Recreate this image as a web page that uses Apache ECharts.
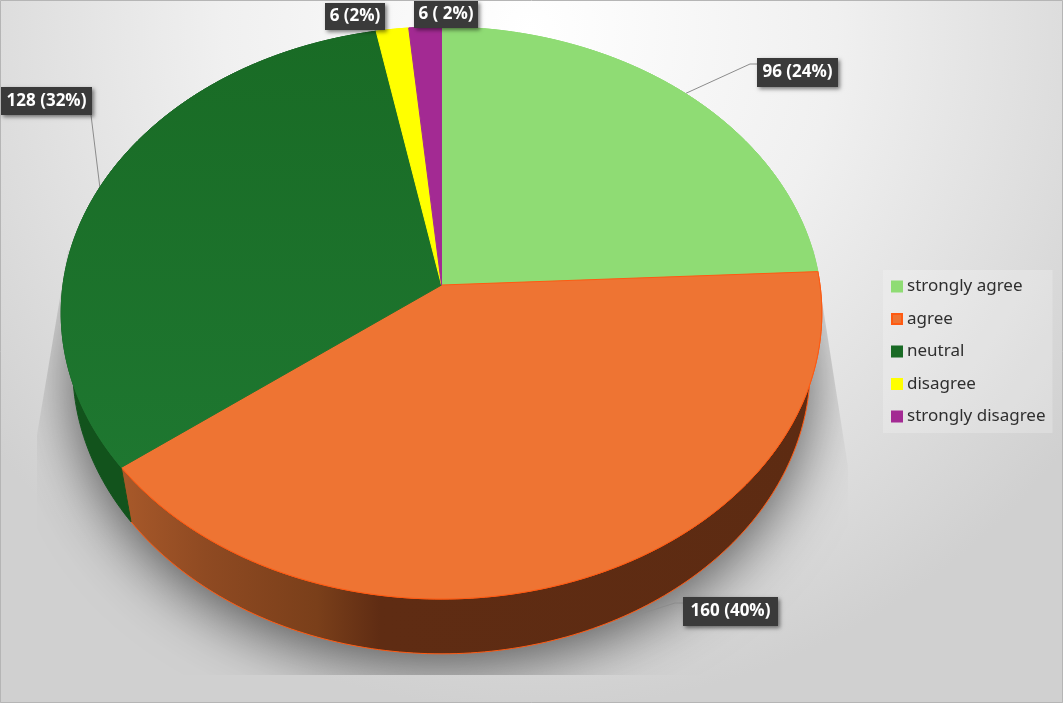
<!DOCTYPE html>
<html>
<head lang="en">
    <meta charset="UTF-8">
    <title></title>
    <style>
        html, body { margin: 0; padding: 0; }
        #main1 { width: 1063px; height: 703px; }
    </style>
</head>
<body>
<div id="main1"></div>
<script src="https://cdn.jsdelivr.net/npm/echarts@6/dist/echarts.min.js"></script>
<script type="text/javascript">
    // data
    var categories = ['strongly agree', 'agree', 'neutral', 'disagree', 'strongly disagree'];
    var values = [96, 160, 128, 6, 6];
    var sliceLabels = ['96 (24%)', '160 (40%)', '128 (32%)', '6 (2%)', '6 ( 2%)'];
    var topColors = ['#8fdc74', '#ee7433', '#196b25', '#ffff00', '#a32a93'];
    var edgeColors = ['#8fdc74', '#ff5a12', '#196b25', '#ffff00', '#a32a93'];

    // label boxes: x, y, w, h and the bend of the leader line
    var labelBoxes = [
        {x: 757, y: 58, w: 81, h: 29, line: [[750, 64], [757, 64]], depth: false},
        {x: 683, y: 597, w: 95, h: 29, line: [[675, 603], [683, 603]], depth: true},
        {x: 1, y: 87, w: 91, h: 28, line: [[91, 115]], depth: false},
        {x: 325, y: 3, w: 60, h: 27},
        {x: 414, y: 1, w: 64, h: 27}
    ];

    // top face and bottom rim of the tilted pie (perspective circle)
    var topFace = {cx: 441.5, cy: 285, a: 378.5, b: 283.3};
    var bottomRim = {cx: 441.5, cy: 339, a: 367, b: 284};
    var persp = 0.0979;
    // the shadow in the picture is cut off by this outline
    var shadowClip = [[68, 250], [37, 435], [37, 675], [848, 675], [848, 467], [814, 250]];

    var total = values.reduce(function (s, v) { return s + v; }, 0);

    function project(face, deg) {
        var t = deg * Math.PI / 180;
        var u = Math.sin(t), v = -Math.cos(t);
        var den = 1 - persp * v;
        return [face.cx + face.a * u / den, face.cy + face.b * v / den];
    }
    function arc(face, from, to) {
        var pts = [];
        var n = Math.max(2, Math.ceil(Math.abs(to - from) / 1));
        for (var i = 0; i <= n; i++) {
            pts.push(project(face, from + (to - from) * i / n));
        }
        return pts;
    }
    function sliceAngles(i, val) {
        var before = 0;
        for (var k = 0; k < i; k++) before += values[k];
        return [before / total * 360, (before + val) / total * 360];
    }

    function wallFill(i) {
        if (i == 1) {
            return new echarts.graphic.LinearGradient(0, 0, 1, 0, [
                {offset: 0, color: '#a8592a'},
                {offset: 0.12, color: '#8f4a22'},
                {offset: 0.28, color: '#7a3f1a'},
                {offset: 0.37, color: '#5f2c13'},
                {offset: 1, color: '#5d2b12'}
            ]);
        }
        return i == 2 ? '#12531c' : topColors[i];
    }
    function topFill(i) {
        if (i == 2) {
            return new echarts.graphic.LinearGradient(0, 0, 0, 1, [
                {offset: 0, color: '#196b25'},
                {offset: 1, color: '#1e7730'}
            ]);
        }
        return topColors[i];
    }

    function renderTop(i) {
        return function (params, api) {
            var a = sliceAngles(i, api.value(0));
            var pts = [[topFace.cx, topFace.cy]].concat(arc(topFace, a[0], a[1]));
            return {
                type: 'polygon',
                shape: {points: pts},
                style: {fill: topFill(i), stroke: i == 2 ? topFill(i) : edgeColors[i], lineWidth: 1}
            };
        };
    }
    function renderWall(i) {
        return function (params, api) {
            var a = sliceAngles(i, api.value(0));
            var pts = arc(topFace, a[0], a[1]).concat(arc(bottomRim, a[1], a[0]));
            return {
                type: 'polygon',
                shape: {points: pts},
                style: {fill: wallFill(i), stroke: i == 1 ? '#ff5a12' : wallFill(i), lineWidth: 1}
            };
        };
    }
    function renderShadow() {
        return {
            type: 'polygon',
            shape: {points: arc(bottomRim, 0, 360)},
            clipPath: {type: 'polygon', shape: {points: shadowClip}},
            style: {fill: '#999', shadowBlur: 60, shadowColor: 'rgba(0,0,0,0.62)', shadowOffsetY: 12}
        };
    }
    function renderLeader(i) {
        return function (params, api) {
            var a = sliceAngles(i, api.value(0));
            var box = labelBoxes[i];
            var start = project(box.depth ? bottomRim : topFace, (a[0] + a[1]) / 2);
            return {
                type: 'polyline',
                shape: {points: [start].concat(box.line)},
                style: {fill: null, stroke: '#8c8c8c', lineWidth: 1}
            };
        };
    }
    function renderLabel(i) {
        return function () {
            var box = labelBoxes[i];
            return {
                type: 'group',
                children: [{
                    type: 'rect',
                    shape: {x: box.x, y: box.y, width: box.w, height: box.h},
                    style: {fill: '#3a3a3a', shadowBlur: 4, shadowOffsetX: 2, shadowOffsetY: 2, shadowColor: 'rgba(0,0,0,0.5)'}
                }, {
                    type: 'text',
                    style: {
                        x: box.x + box.w / 2,
                        y: box.y + box.h / 2,
                        text: sliceLabels[i],
                        align: 'center',
                        verticalAlign: 'middle',
                        fill: '#ffffff',
                        font: 'bold 17px "Open Sans", sans-serif'
                    }
                }]
            };
        };
    }

    var seriesList = [];
    seriesList.push({
        name: 'shadow', type: 'custom', coordinateSystem: 'none', z: 1, silent: true,
        data: [[total]], renderItem: renderShadow
    });
    var i;
    for (i = 0; i < 3; i++) {
        seriesList.push({
            name: 'leader' + i, type: 'custom', coordinateSystem: 'none', z: 2, silent: true,
            data: [[values[i]]], renderItem: renderLeader(i)
        });
    }
    for (i = 0; i < categories.length; i++) {
        seriesList.push({
            name: 'wall' + i, type: 'custom', coordinateSystem: 'none', z: 3, silent: true,
            data: [[values[i]]], renderItem: renderWall(i)
        });
        seriesList.push({
            name: categories[i], type: 'custom', coordinateSystem: 'none', z: 4, silent: true,
            itemStyle: {color: topColors[i], borderColor: edgeColors[i], borderWidth: 1},
            data: [[values[i]]], renderItem: renderTop(i)
        });
        seriesList.push({
            name: 'label' + i, type: 'custom', coordinateSystem: 'none', z: 5, silent: true,
            data: [[values[i]]], renderItem: renderLabel(i)
        });
    }

    var myChart1 = echarts.init(document.getElementById('main1'));
    var option = {
        animation: false,
        backgroundColor: new echarts.graphic.RadialGradient(530, 30, 680, [
            {offset: 0, color: '#ffffff'},
            {offset: 0.45, color: '#f0f0f0'},
            {offset: 0.8, color: '#dcdcdc'},
            {offset: 1, color: '#d0d0d0'}
        ], true),
        legend: {
            data: categories,
            orient: 'vertical',
            left: 883,
            top: 270,
            padding: [6, 7, 6, 8],
            backgroundColor: 'rgba(255,255,255,0.22)',
            icon: 'rect',
            itemWidth: 10,
            itemHeight: 10,
            itemGap: 11.5,
            selectedMode: false,
            textStyle: {color: '#2f2f2f', fontSize: 17, fontFamily: '"Noto Sans", sans-serif', lineHeight: 21}
        },
        graphic: [{
            type: 'rect', z: 10, silent: true,
            shape: {x: 0.5, y: 0.5, width: 1062, height: 702},
            style: {fill: null, stroke: '#b5b5b5', lineWidth: 1}
        }],
        series: seriesList
    };
    myChart1.setOption(option);
</script>
</body>
</html>
